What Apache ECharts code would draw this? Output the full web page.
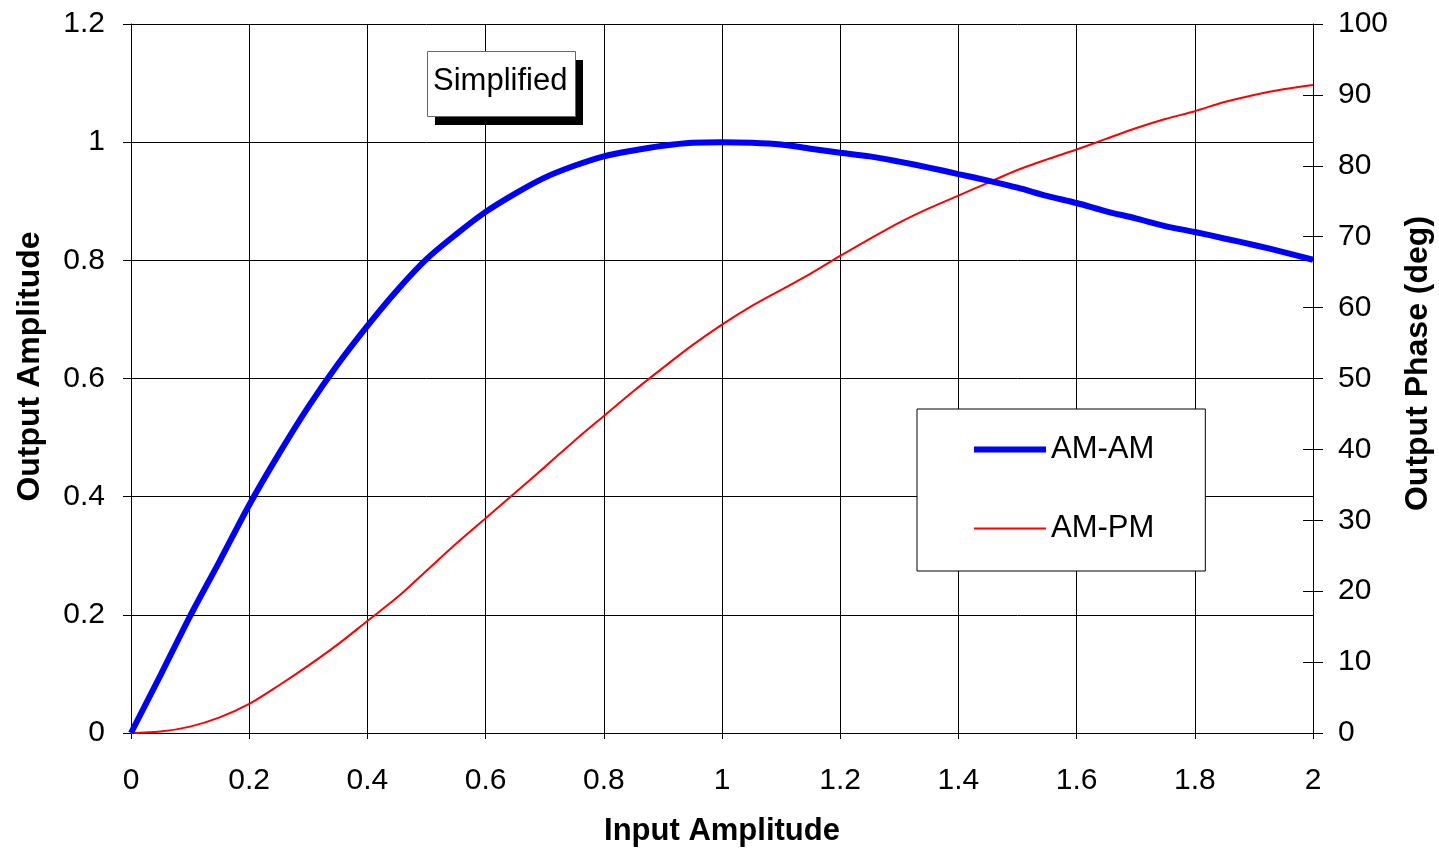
<!DOCTYPE html>
<html>
<head>
<meta charset="utf-8">
<script src="https://cdn.jsdelivr.net/npm/echarts@6/dist/echarts.min.js"></script>
<style>
html,body{margin:0;padding:0;background:#fff;}
#chart{width:1439px;height:851px;}
</style>
</head>
<body>
<div id="chart"></div>
<script>
const inputAmplitude = [0,0.05,0.1,0.15,0.2,0.25,0.3,0.35,0.4,0.45,0.5,0.55,0.6,0.65,0.7,0.75,0.8,0.85,0.9,0.95,1.0,1.05,1.1,1.15,1.2,1.25,1.3,1.35,1.4,1.45,1.5,1.55,1.6,1.65,1.7,1.75,1.8,1.85,1.9,1.95,2.0];
const amAm = [0,0.098,0.198,0.291,0.386,0.472,0.552,0.624,0.689,0.749,0.802,0.844,0.882,0.913,0.940,0.960,0.976,0.986,0.994,0.999,1.000,0.999,0.996,0.989,0.982,0.976,0.967,0.957,0.946,0.935,0.923,0.909,0.897,0.883,0.871,0.858,0.848,0.837,0.826,0.814,0.801];
const amPm = [0,0.2,0.9,2.2,4.1,6.7,9.5,12.5,15.8,19.1,22.9,26.7,30.3,33.9,37.5,41.2,44.7,48.2,51.5,54.7,57.6,60.2,62.5,64.8,67.3,69.7,72.0,74.0,75.8,77.6,79.4,80.9,82.3,83.8,85.3,86.6,87.7,89.0,90.0,90.8,91.4];
const seriesNames = ['AM-AM','AM-PM'];
const axisTitles = {x:'Input Amplitude', left:'Output Amplitude', right:'Output Phase (deg)'};
const annotation = 'Simplified';

const FONT = "'Liberation Sans', Arial, sans-serif";
const chart = echarts.init(document.getElementById('chart'));
const pairs = (xs, ys) => xs.map((x, i) => [x, ys[i]]);

chart.setOption({
  backgroundColor: '#fff',
  animation: false,
  grid: {left: 131, right: 126, top: 24, bottom: 118, containLabel: false, outerBoundsMode: 'none'},
  xAxis: {
    type: 'value', min: 0, max: 2, interval: 0.2,
    name: axisTitles.x, nameLocation: 'middle', nameGap: 83,
    nameTextStyle: {fontFamily: FONT, fontSize: 31, fontWeight: 'bold', color: '#000'},
    axisLine: {show: true, lineStyle: {color: '#000', width: 1}},
    axisTick: {show: true, length: 6, lineStyle: {color: '#000'}},
    axisLabel: {fontFamily: FONT, fontSize: 30, color: '#000', margin: 33},
    splitLine: {show: true, lineStyle: {color: '#000', width: 1}}
  },
  yAxis: [
    {
      type: 'value', position: 'left', min: 0, max: 1.2, interval: 0.2,
      name: axisTitles.left, nameLocation: 'middle', nameGap: 85, nameRotate: 90,
      nameTextStyle: {fontFamily: FONT, fontSize: 32, fontWeight: 'bold', color: '#000', padding: [0,0,0,24]},
      axisLine: {show: true, lineStyle: {color: '#000', width: 1}},
      axisTick: {show: true, length: 8, lineStyle: {color: '#000'}},
      axisLabel: {fontFamily: FONT, fontSize: 30, color: '#000', margin: 26},
      splitLine: {show: true, lineStyle: {color: '#000', width: 1}}
    },
    {
      type: 'value', position: 'right', min: 0, max: 100, interval: 10,
      name: axisTitles.right, nameLocation: 'middle', nameGap: 89, nameRotate: 90,
      nameTextStyle: {fontFamily: FONT, fontSize: 32, fontWeight: 'bold', color: '#000', padding: [0,0,0,30]},
      axisLine: {show: true, lineStyle: {color: '#000', width: 1}},
      axisTick: {show: true, length: 10, lineStyle: {color: '#000'}},
      axisLabel: {fontFamily: FONT, fontSize: 30, color: '#000', margin: 25},
      splitLine: {show: false}
    },
    {
      type: 'value', position: 'right', min: 0, max: 100, interval: 10,
      axisLine: {show: false},
      axisTick: {show: true, inside: true, length: 10, lineStyle: {color: '#000'}},
      axisLabel: {show: false},
      splitLine: {show: false}
    }
  ],
  legend: {
    data: [
      {name: seriesNames[0], icon: 'path://M0,0h0.01v0.01h-0.01z M0,4h72v6h-72z M0,13.99h0.01v0.01h-0.01z', itemStyle: {color: '#0000ff', borderWidth: 0}},
      {name: seriesNames[1], icon: 'path://M0,0h0.01v0.01h-0.01z M0,6h72v2h-72z M0,13.99h0.01v0.01h-0.01z', itemStyle: {color: '#ff0000', borderWidth: 0}}
    ],
    orient: 'vertical',
    left: 917, top: 409,
    padding: [25, 51, 27, 57],
    itemWidth: 72, itemHeight: 14, itemGap: 48,
    backgroundColor: '#fff', borderColor: '#000', borderWidth: 1,
    textStyle: {fontFamily: FONT, fontSize: 31, color: '#000'}
  },
  graphic: [
    {type: 'rect', left: 435, top: 60, z: 100, shape: {width: 148, height: 65}, style: {fill: '#000'}},
    {type: 'rect', left: 427, top: 51, z: 101, shape: {width: 148, height: 65}, style: {fill: '#fff', stroke: '#666', lineWidth: 1}},
    {type: 'text', z: 102, left: 433, top: 66,
      style: {text: annotation, font: "31px 'Liberation Sans', Arial, sans-serif", fill: '#000'}}
  ],
  series: [
    {
      name: seriesNames[0], type: 'line', yAxisIndex: 0,
      data: pairs(inputAmplitude, amAm),
      showSymbol: false, symbol: 'none', smooth: 0.3,
      lineStyle: {color: '#0000ff', width: 6}, itemStyle: {color: '#0000ff'}, z: 5
    },
    {
      name: seriesNames[1], type: 'line', yAxisIndex: 1,
      data: pairs(inputAmplitude, amPm),
      showSymbol: false, symbol: 'none', smooth: 0.3,
      lineStyle: {color: '#ff0000', width: 2}, itemStyle: {color: '#ff0000'}, z: 4
    }
  ]
});
</script>
</body>
</html>
